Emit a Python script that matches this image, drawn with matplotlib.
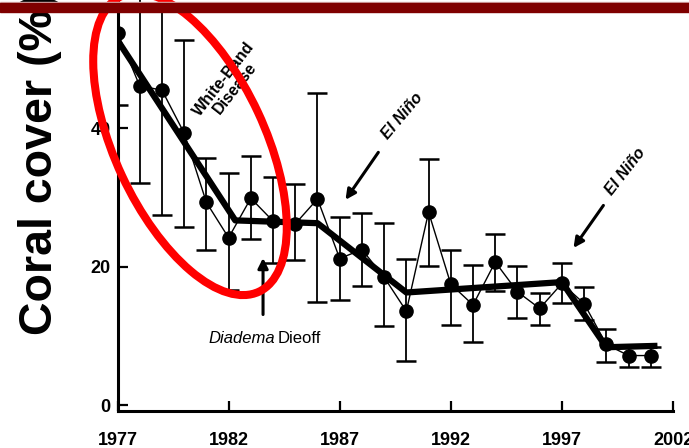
import numpy as np
import matplotlib
matplotlib.use("Agg")
import matplotlib.pyplot as plt
from matplotlib.patches import Ellipse, Rectangle
from matplotlib import font_manager

# yearly coral cover (%) with error bar limits
years = [1977, 1978, 1979, 1980, 1981, 1982, 1983, 1984, 1985, 1986, 1987, 1988, 1989,
         1990, 1991, 1992, 1993, 1994, 1995, 1996, 1997, 1998, 1999, 2000, 2001]
cover = [53.8, 46.1, 45.5, 39.3, 29.3, 24.2, 29.9, 26.6, 26.2, 29.8, 21.2, 22.5, 18.5,
         13.6, 27.9, 17.5, 14.5, 20.7, 16.4, 14.0, 17.6, 14.7, 8.8, 7.2, 7.2]
upper = [64.3, 60.1, 63.5, 52.7, 35.7, 33.5, 36.0, 33.0, 31.9, 45.1, 27.2, 27.7, 26.3,
         21.1, 35.5, 22.5, 20.2, 24.7, 20.1, 16.2, 20.6, 17.1, 11.0, 8.4, 8.4]
lower = [43.3, 32.1, 27.5, 25.8, 22.5, 16.6, 24.0, 20.5, 21.0, 14.9, 15.2, 17.2, 11.4,
         6.4, 20.1, 11.6, 9.1, 16.5, 12.6, 11.6, 14.8, 12.3, 6.3, 5.5, 5.5]

# piecewise trend
trend_years = [1977, 1982.3, 1986, 1990, 1997, 1999, 2001.3]
trend_vals = [52.7, 26.7, 26.3, 16.3, 17.8, 8.4, 8.6]

xticks = [1977, 1982, 1987, 1992, 1997, 2002]
yticks = [0, 20, 40]

names = {f.name for f in font_manager.fontManager.ttflist}
NARROW = "Liberation Sans Narrow" if "Liberation Sans Narrow" in names else "Liberation Sans"
plt.rcParams['font.family'] = ['Liberation Sans', 'DejaVu Sans']

fig = plt.figure(figsize=(6.89, 4.48), dpi=100)
ax = fig.add_axes([117.5/689, 37/448, (673-117.5)/689, 411/448])

y = np.array(cover)
yerr = [y - np.array(lower), np.array(upper) - y]
ax.errorbar(years, cover, yerr=yerr, fmt='none', ecolor='black', elinewidth=1.3,
            capsize=7, capthick=1.8, zorder=2)
ax.plot(years, cover, color='black', lw=1.0, zorder=3)
ax.plot(trend_years, trend_vals, color='black', lw=4.5, solid_capstyle='butt', zorder=4)
ax.plot(years, cover, 'o', color='black', ms=9.5, zorder=5)

ax.set_xlim(1977, 2002)
ax.set_ylim(-0.8, 58.5)
ax.set_xticks(xticks)
ax.set_yticks(yticks)
ax.spines['top'].set_visible(False)
ax.spines['right'].set_visible(False)
for s in ['left', 'bottom']:
    ax.spines[s].set_linewidth(2.2)
ax.tick_params(axis='x', direction='in', length=7, width=1.6, pad=15)
ax.tick_params(axis='y', direction='in', length=7, width=1.6, pad=5)
for lab in ax.get_xticklabels() + ax.get_yticklabels():
    lab.set_fontweight('bold')
    lab.set_fontsize(13)

fig.text(52/689, (448-164)/448, "Coral cover (%)", rotation=90, rotation_mode='anchor',
         ha='center', va='baseline', fontsize=33.5, fontweight='bold')

# annotations
ax.text(1982.04, 46.46, "White-Band\nDisease", rotation=52, ha='center', va='center',
        fontsize=11.5, fontweight='bold', linespacing=1.0, zorder=6)
ax.text(1989.8, 41.76, "El Niño", rotation=50, ha='center', va='center',
        fontsize=11.5, fontweight='bold', style='italic')
ax.annotate("", xy=(1987.19, 29.34), xytext=(1988.81, 36.85),
            arrowprops=dict(arrowstyle='-|>', lw=2.2, color='black', mutation_scale=15))
ax.text(1999.88, 33.82, "El Niño", rotation=52, ha='center', va='center',
        fontsize=11.5, fontweight='bold', style='italic')
ax.annotate("", xy=(1997.45, 22.4), xytext=(1998.94, 29.19),
            arrowprops=dict(arrowstyle='-|>', lw=2.2, color='black', mutation_scale=15))
ax.annotate("", xy=(1983.55, 21.68), xytext=(1983.55, 12.72),
            arrowprops=dict(arrowstyle='-|>', lw=2.2, color='black', mutation_scale=15))
ax.text(1984.09, 9.68, "Diadema", ha='right', va='center', fontsize=12,
        style='italic', family=NARROW)
ax.text(1984.22, 9.68, "Dieoff", ha='left', va='center', fontsize=12, family=NARROW)

# red ellipse around the early decline
ell = Ellipse((1.90, (448-144)/100), width=3.26, height=1.50, angle=-65,
              transform=fig.dpi_scale_trans, fill=False, edgecolor='#ff0000', lw=5.8,
              zorder=10, clip_on=False)
ax.add_patch(ell)

# slide banner at top
fig.add_artist(Rectangle((0, (448-3.5)/448), 1, 1/448, transform=fig.transFigure,
                         color='#d9b3b3', zorder=20))
fig.add_artist(Rectangle((0, (448-12.5)/448), 1, 9/448, transform=fig.transFigure,
                         color='#7f0000', zorder=20))

fig.savefig("out.png", dpi=100)
